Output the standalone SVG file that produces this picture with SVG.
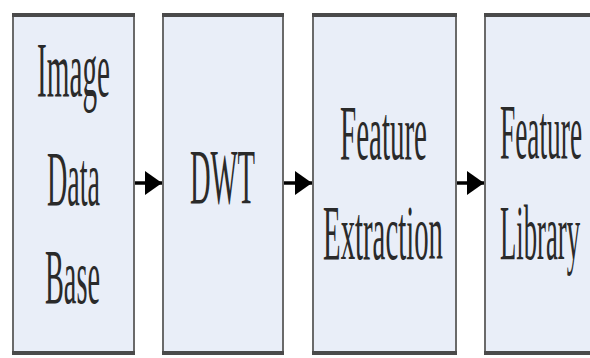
<svg xmlns="http://www.w3.org/2000/svg" width="590" height="358" viewBox="0 0 590 358">
<style>
.box{fill:#e9eef8;stroke:#6a6a6a;stroke-width:2}
.edge{stroke:#4a4a4a;stroke-width:4}
.lbl{font-family:"Liberation Serif","Times New Roman",serif;font-size:78px;fill:#2a2a2a;text-anchor:middle}
.conn{stroke:#000;stroke-width:3.5;fill:none}
</style>
<defs>
<marker id="ah" markerUnits="userSpaceOnUse" markerWidth="17" markerHeight="24" refX="17" refY="12" orient="auto">
<path d="M0,0 L17,12 L0,24 Z" fill="#000"/>
</marker>
</defs>
<rect width="590" height="358" fill="#fff"/>
<g id="n1">
<rect class="box" x="13" y="15" width="121" height="338"/>
<line class="edge" x1="12" y1="15" x2="135" y2="15"/>
<line class="edge" x1="12" y1="353" x2="135" y2="353"/>
<text class="lbl" transform="translate(73.5,96) scale(0.375,1)">Image</text>
<text class="lbl" transform="translate(73.5,205) scale(0.36,1)">Data</text>
<text class="lbl" transform="translate(72.5,303) scale(0.363,1)">Base</text>
</g>
<g id="n2">
<rect class="box" x="163" y="15" width="120" height="338"/>
<line class="edge" x1="162" y1="15" x2="284" y2="15"/>
<line class="edge" x1="162" y1="353" x2="284" y2="353"/>
<text class="lbl" transform="translate(222.5,203) scale(0.366,1)">DWT</text>
</g>
<g id="n3">
<rect class="box" x="313" y="15" width="143" height="338"/>
<line class="edge" x1="312" y1="15" x2="457" y2="15"/>
<line class="edge" x1="312" y1="353" x2="457" y2="353"/>
<text class="lbl" transform="translate(383.5,159) scale(0.372,1)">Feature</text>
<text class="lbl" transform="translate(383,259) scale(0.369,1)">Extraction</text>
</g>
<g id="n4">
<rect class="box" x="485" y="15" width="110" height="338"/>
<line class="edge" x1="484" y1="15" x2="592" y2="15"/>
<line class="edge" x1="484" y1="353" x2="592" y2="353"/>
<text class="lbl" transform="translate(541,158) scale(0.351,1)">Feature</text>
<text class="lbl" transform="translate(540,259) scale(0.342,1)">Library</text>
</g>
<g id="connectors">
<line class="conn" x1="135" y1="183" x2="162" y2="183" marker-end="url(#ah)"/>
<line class="conn" x1="284" y1="183" x2="312" y2="183" marker-end="url(#ah)"/>
<line class="conn" x1="457" y1="183" x2="484" y2="183" marker-end="url(#ah)"/>
</g>
</svg>
